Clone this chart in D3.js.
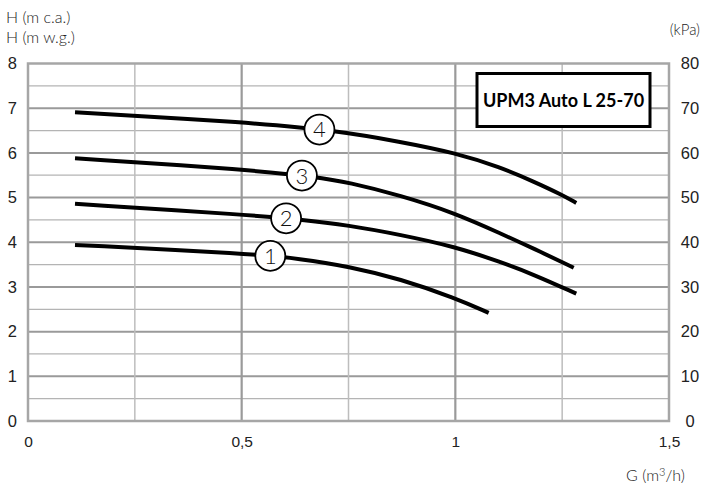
<!DOCTYPE html>
<html>
<head>
<meta charset="utf-8">
<script src="https://cdn.jsdelivr.net/npm/d3@7"></script>
<style>
  body { margin: 0; background: #fff; }
  svg { display: block; font-family: Lato, "DejaVu Sans", sans-serif; }
  .lbl { font-weight: 300; fill: #222; }
</style>
</head>
<body>
<svg id="chart" width="703" height="485"></svg>
<script>
// Pump curves (flow G in m3/h, head H in m)
const flow1 = [0.11, 0.52, 0.637, 0.75, 0.871, 1.0, 1.078];
const head1 = [3.94, 3.75, 3.63, 3.46, 3.18, 2.75, 2.42];
const flow2 = [0.11, 0.52, 0.637, 0.75, 0.871, 1.0, 1.105, 1.183, 1.283];
const head2 = [4.86, 4.61, 4.51, 4.38, 4.17, 3.90, 3.56, 3.28, 2.85];
const flow3 = [0.11, 0.52, 0.676, 0.75, 0.871, 1.0, 1.105, 1.183, 1.277];
const head3 = [5.88, 5.62, 5.46, 5.34, 5.05, 4.65, 4.20, 3.86, 3.43];
const flow4 = [0.11, 0.52, 0.719, 0.871, 1.0, 1.105, 1.183, 1.25, 1.283];
const head4 = [6.91, 6.68, 6.50, 6.25, 6.00, 5.68, 5.36, 5.06, 4.88];

const curveNames = ["1", "2", "3", "4"];
const labelFlow = [0.567, 0.604, 0.641, 0.682];

const xTicks = [0, 0.5, 1, 1.5];
const yTicks = [0, 1, 2, 3, 4, 5, 6, 7, 8];
const kpaTicks = [0, 10, 20, 30, 40, 50, 60, 70, 80];
const title = "UPM3 Auto L 25-70";

const svg = d3.select("#chart");

const x = d3.scaleLinear().domain([0, 1.5]).range([28, 669]);
const y = d3.scaleLinear().domain([0, 8]).range([421, 63.5]);
const yKpa = d3.scaleLinear().domain([0, 80]).range([421, 63.5]);

// Grid
const grid = svg.append("g");
d3.range(0.5, 8, 0.5).forEach(v => {
  const major = Number.isInteger(v);
  grid.append("line")
    .attr("x1", x(0)).attr("x2", x(1.5))
    .attr("y1", y(v)).attr("y2", y(v))
    .attr("stroke", major ? "#9a9a9a" : "#b4b4b4")
    .attr("stroke-width", major ? 2 : 1.2);
});
d3.range(0.25, 1.5, 0.25).forEach(v => {
  const major = v % 0.5 === 0;
  grid.append("line")
    .attr("x1", x(v)).attr("x2", x(v))
    .attr("y1", y(0)).attr("y2", y(8))
    .attr("stroke", major ? "#9a9a9a" : "#bdbdbd")
    .attr("stroke-width", major ? 2.2 : 1.5);
});

// Frame
svg.append("rect")
  .attr("x", x(0)).attr("y", y(8))
  .attr("width", x(1.5) - x(0)).attr("height", y(0) - y(8))
  .attr("fill", "none")
  .attr("stroke", "#a6a6a6")
  .attr("stroke-width", 2.5);

// Axes (labels only)
const leftAxis = svg.append("g")
  .attr("transform", `translate(${x(0)},0)`)
  .call(d3.axisLeft(y).tickValues(yTicks).tickSize(0).tickPadding(11));
leftAxis.selectAll("text").attr("class", "lbl").style("font-size", "16.5px");

const rightAxis = svg.append("g")
  .attr("transform", `translate(${x(1.5)},0)`)
  .call(d3.axisRight(yKpa).tickValues(kpaTicks).tickSize(0));
rightAxis.selectAll("text").attr("class", "lbl").style("font-size", "16.5px")
  .attr("text-anchor", "middle").attr("x", 21);

const bottomAxis = svg.append("g")
  .attr("transform", `translate(0,${y(0)})`)
  .call(d3.axisBottom(x).tickValues(xTicks).tickSize(0).tickPadding(15)
    .tickFormat(d => String(d).replace(".", ",")));
bottomAxis.selectAll("text").attr("class", "lbl").style("font-size", "15.5px");

svg.selectAll(".domain").remove();

// Axis titles
svg.append("text").attr("class", "lbl").attr("x", 6).attr("y", 23)
  .style("font-size", "16px").text("H (m c.a.)");
svg.append("text").attr("class", "lbl").attr("x", 6).attr("y", 43)
  .style("font-size", "16px").text("H (m w.g.)");
svg.append("text").attr("class", "lbl").attr("x", 700).attr("y", 35)
  .attr("text-anchor", "end").style("font-size", "15px").text("(kPa)");
const gLabel = svg.append("text").attr("class", "lbl").attr("x", 685).attr("y", 481)
  .attr("text-anchor", "end").style("font-size", "16px");
gLabel.append("tspan").text("G (m");
gLabel.append("tspan").attr("dy", -5).style("font-size", "11px").text("3");
gLabel.append("tspan").attr("dy", 5).text("/h)");

// Curves
const series = [
  flow1.map((f, i) => [f, head1[i]]),
  flow2.map((f, i) => [f, head2[i]]),
  flow3.map((f, i) => [f, head3[i]]),
  flow4.map((f, i) => [f, head4[i]])
];

const line = d3.line()
  .x(d => x(d[0]))
  .y(d => y(d[1]))
  .curve(d3.curveBasis);

const paths = svg.append("g").selectAll("path")
  .data(series)
  .enter().append("path")
  .attr("d", line)
  .attr("fill", "none")
  .attr("stroke", "#000")
  .attr("stroke-width", 4);

// find point on a path at a given x
function pointAtX(node, px) {
  let lo = 0, hi = node.getTotalLength();
  for (let k = 0; k < 40; k++) {
    const mid = (lo + hi) / 2;
    if (node.getPointAtLength(mid).x < px) lo = mid; else hi = mid;
  }
  return node.getPointAtLength(lo);
}

// Circle labels
paths.each(function(d, i) {
  const p = pointAtX(this, x(labelFlow[i]));
  const g = svg.append("g").attr("transform", `translate(${p.x},${p.y})`);
  g.append("circle").attr("r", 15)
    .attr("fill", "#fff").attr("stroke", "#000").attr("stroke-width", 1.8);
  g.append("text").attr("class", "lbl")
    .attr("text-anchor", "middle").attr("dy", "0.36em")
    .style("font-size", "22px").style("fill", "#111")
    .text(curveNames[i]);
});

// Title box
const box = svg.append("g");
box.append("rect")
  .attr("x", 477).attr("y", 73.5).attr("width", 173).attr("height", 53)
  .attr("fill", "#fff").attr("stroke", "#000").attr("stroke-width", 3);
box.append("text")
  .attr("x", 563.5).attr("y", 106.5)
  .attr("text-anchor", "middle")
  .style("font-size", "18px").style("font-weight", "bold")
  .text(title);
</script>
</body>
</html>
